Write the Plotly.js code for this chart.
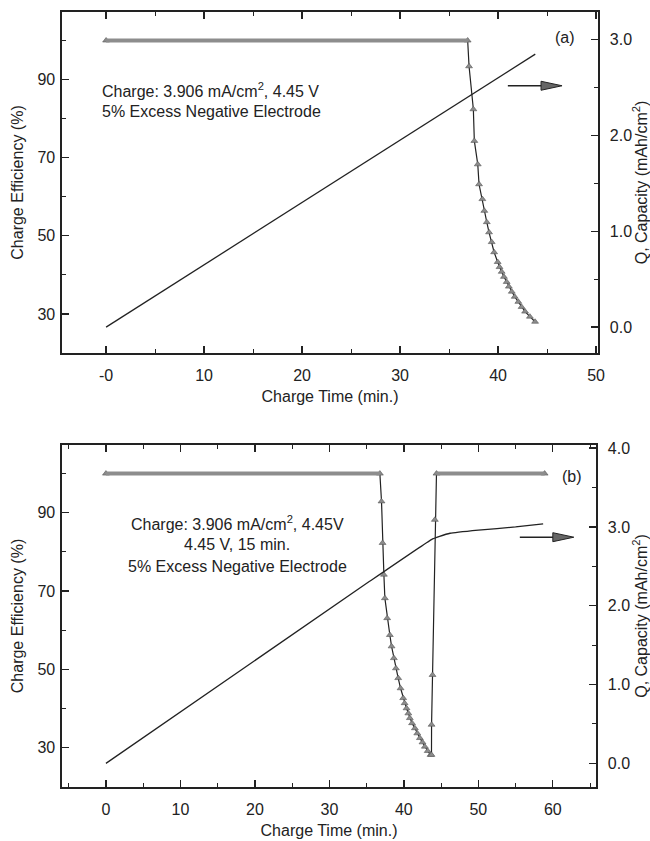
<!DOCTYPE html>
<html>
<head>
<meta charset="utf-8">
<script src="https://cdn.plot.ly/plotly-3.0.1.min.js"></script>
<style>
  html, body { margin: 0; padding: 0; background: #fff; }
  #chart { width: 650px; height: 841px; }
</style>
</head>
<body>
<div id="chart"></div>
<script>
// panel (a): constant charge, 3.906 mA/cm2 to 4.45 V
const capA_t = [0, 43.8];
const capA_q = [0, 2.85];
const effA_t = [0, 36.9, 37.04, 37.48, 37.58, 37.93, 38.06, 38.4, 38.6, 38.85, 39.08, 39.35,
                39.6, 39.96, 40.15, 40.37, 40.6, 40.88, 41.1, 41.4, 41.7, 42.07, 42.4, 42.76,
                43.25, 43.78];
const effA_v = [100, 100, 93.4, 82.4, 74.3, 68.3, 63.2, 59.4, 56.4, 53.5, 50.9, 48.4,
                45.8, 43.3, 42.0, 40.8, 39.5, 38.2, 37.0, 35.7, 34.4, 33.1, 31.8, 30.6,
                29.3, 28.0];
const flatA_t = [0, 36.9];
const flatA_v = [100, 100];

// panel (b): same charge followed by 4.45 V hold for 15 min
const capB_t = [0, 35.4, 43.7, 44.8, 46.2, 50, 55, 58.7];
const capB_q = [0, 2.31, 2.84, 2.88, 2.92, 2.96, 3.0, 3.04];
const effB_t = [0, 36.78, 37.0, 37.14, 37.32, 37.45, 37.76, 38.12, 38.35, 38.66, 38.93, 39.24,
                39.56, 39.91, 40.1, 40.36, 40.6, 40.8, 41.1, 41.48, 41.8, 42.15, 42.5, 42.82,
                43.2, 43.58, 43.71, 43.72, 43.85, 44.16, 44.38, 58.9];
const effB_v = [100, 100, 92.9, 82.3, 74.2, 68.2, 63.1, 58.8, 55.9, 52.9, 50.3, 47.8,
                45.2, 42.7, 41.4, 40.1, 38.8, 37.6, 36.3, 35.0, 33.7, 32.5, 31.4, 30.3,
                29.2, 28.2, 28.2, 35.9, 48.6, 88.2, 100, 100];
const flatB1_t = [0, 36.78];
const flatB2_t = [44.38, 58.9];
const flat_v = [100, 100];

const effTicks = [30, 50, 70, 90];
const timeTicksA = [0, 10, 20, 30, 40, 50];
const timeTextA = ['-0', '10', '20', '30', '40', '50'];
const timeTicksB = [0, 10, 20, 30, 40, 50, 60];

const ink = '#222';
const markerStyle = {symbol: 'triangle-up', size: 6, color: '#8c8c8c', line: {color: '#555', width: 0.6}};

function band(t, v, xa, ya) {
  return {x: t, y: v, xaxis: xa, yaxis: ya, type: 'scatter', mode: 'lines',
          line: {color: '#8d8d8d', width: 4}, hoverinfo: 'skip'};
}

const data = [
  {x: capA_t, y: capA_q, xaxis: 'x', yaxis: 'y2', type: 'scatter', mode: 'lines',
   line: {color: ink, width: 1.3}},
  {x: effA_t, y: effA_v, xaxis: 'x', yaxis: 'y', type: 'scatter', mode: 'lines+markers',
   line: {color: ink, width: 1.2}, marker: markerStyle},
  band(flatA_t, flatA_v, 'x', 'y'),
  {x: capB_t, y: capB_q, xaxis: 'x2', yaxis: 'y4', type: 'scatter', mode: 'lines',
   line: {color: ink, width: 1.3, shape: 'spline', smoothing: 0.3}},
  {x: effB_t, y: effB_v, xaxis: 'x2', yaxis: 'y3', type: 'scatter', mode: 'lines+markers',
   line: {color: ink, width: 1.2}, marker: markerStyle},
  band(flatB1_t, flat_v, 'x2', 'y3'),
  band(flatB2_t, flat_v, 'x2', 'y3')
];

const font = {family: 'Liberation Sans, Arial, sans-serif', size: 16, color: ink};

function xAxis(range, vals, text, anchor, domain) {
  return {
    range: range, domain: domain, anchor: anchor,
    tickvals: vals, ticktext: text, ticks: 'inside', ticklen: 7, tickwidth: 1.3, tickcolor: ink,
    minor: {dtick: 5, tick0: 0, ticks: 'inside', ticklen: 4, tickcolor: ink, tickwidth: 1},
    showline: true, linecolor: ink, linewidth: 1.6, mirror: 'ticks',
    showgrid: false, zeroline: false, ticklabelstandoff: 7,
    title: {text: 'Charge Time (min.)', font: font, standoff: 8}
  };
}

function yLeft(domain, anchor) {
  return {
    range: [20, 107.3], domain: domain, anchor: anchor,
    tickvals: effTicks, ticks: 'inside', ticklen: 7, tickwidth: 1.3, tickcolor: ink,
    minor: {dtick: 10, tick0: 0, ticks: 'inside', ticklen: 4, tickcolor: ink, tickwidth: 1},
    showline: true, linecolor: ink, linewidth: 1.6,
    showgrid: false, zeroline: false, ticklabelstandoff: 2,
    title: {text: 'Charge Efficiency (%)', font: font, standoff: 10}
  };
}

function yRight(range, over, anchor) {
  return {
    range: range, overlaying: over, side: 'right', anchor: anchor,
    dtick: 1, tick0: 0, tickformat: '.1f', ticks: 'inside', ticklen: 7, tickwidth: 1.3, tickcolor: ink,
    minor: {dtick: 0.5, tick0: 0, ticks: 'inside', ticklen: 4, tickcolor: ink, tickwidth: 1},
    showline: true, linecolor: ink, linewidth: 1.6,
    showgrid: false, zeroline: false, ticklabelstandoff: 7,
    title: {text: 'Q, Capacity (mAh/cm<sup>2</sup>)', font: font, standoff: 4}
  };
}

function note(text, x, y, xa, ya, anchor) {
  return {text: text, x: x, y: y, xref: xa, yref: ya, xanchor: anchor || 'left',
          yanchor: 'middle', showarrow: false, font: font};
}

function arrow(x0, x1, tip, y, xa, ya) {
  return [
    {type: 'line', xref: xa, yref: ya, x0: x0, x1: x1, y0: y, y1: y,
     line: {color: ink, width: 1.4}},
    {type: 'path', xref: xa, yref: ya, xsizemode: 'pixel', ysizemode: 'pixel',
     xanchor: tip, yanchor: y, path: 'M-21,-4.5 L0,0 L-21,4.5 Z',
     fillcolor: '#666', line: {color: ink, width: 1}}
  ];
}

const layout = {
  width: 650, height: 841,
  margin: {l: 62, r: 52, t: 12, b: 54},
  paper_bgcolor: '#fff', plot_bgcolor: '#fff',
  showlegend: false, font: font,
  xaxis: xAxis([-4.5, 50.2], timeTicksA, timeTextA, 'y', [0, 1]),
  yaxis: yLeft([0.56, 1], 'x'),
  yaxis2: yRight([-0.27, 3.29], 'y', 'x'),
  xaxis2: xAxis([-5.9, 65.8], timeTicksB, timeTicksB.map(String), 'y3', [0, 0.9963]),
  yaxis3: yLeft([0, 0.4413], 'x2'),
  yaxis4: yRight([-0.30, 4.04], 'y3', 'x2'),
  annotations: [
    note('Charge: 3.906 mA/cm<sup>2</sup>, 4.45 V', -0.6, 87.45, 'x', 'y'),
    note('5% Excess Negative Electrode', -0.6, 81.85, 'x', 'y'),
    note('(a)', 46.8, 100.7, 'x', 'y', 'center'),
    note('Charge: 3.906 mA/cm<sup>2</sup>, 4.45V', 17.6, 87.4, 'x2', 'y3', 'center'),
    note('4.45 V, 15 min.', 17.6, 81.8, 'x2', 'y3', 'center'),
    note('5% Excess Negative Electrode', 17.6, 76.2, 'x2', 'y3', 'center'),
    note('(b)', 62.6, 99.2, 'x2', 'y3', 'center')
  ],
  shapes: arrow(41.0, 44.8, 46.53, 2.52, 'x', 'y2').concat(arrow(55.57, 60.3, 62.82, 2.87, 'x2', 'y4'))
};

Plotly.newPlot('chart', data, layout, {staticPlot: true});
</script>
</body>
</html>
